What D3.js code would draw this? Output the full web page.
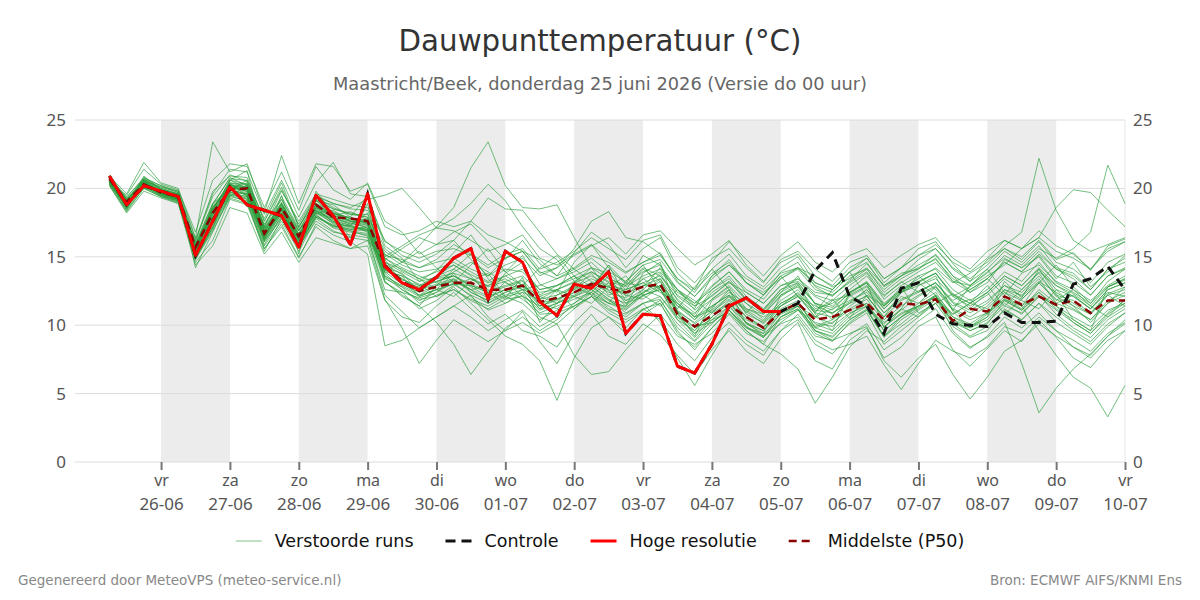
<!DOCTYPE html>
<html>
<head>
<meta charset="utf-8">
<script src="https://cdn.jsdelivr.net/npm/d3@7"></script>
<style>
  body { margin: 0; background: #fff; }
  svg { font-family: "DejaVu Sans", sans-serif; }
</style>
</head>
<body>
<div class="vis"></div>
<script>
// tijdstappen: elke 6 uur vanaf do 25-06 06 UTC
const startTime = Date.UTC(2026, 5, 25, 6);
const stepHours = 6;

const yTicks = [0, 5, 10, 15, 20, 25];
const tickDays = ["vr", "za", "zo", "ma", "di", "wo", "do", "vr", "za", "zo", "ma", "di", "wo", "do", "vr"];
const tickDates = ["26-06", "27-06", "28-06", "29-06", "30-06", "01-07", "02-07", "03-07", "04-07", "05-07", "06-07", "07-07", "08-07", "09-07", "10-07"];
const shadedDays = [26, 28, 30, 32, 34, 36, 38]; // dag van juni (32 = 2 juli)

const hogeResolutie = [20.9,18.8,20.2,19.8,19.4,15.1,17.6,20.1,18.8,18.4,
  18.0,15.7,19.5,18.0,15.9,19.6,14.3,13.1,12.6,13.5,
  14.9,15.6,11.9,15.4,14.6,11.7,10.7,13.0,12.7,13.9,
  9.4,10.8,10.7,7.0,6.5,8.6,11.4,12.0,11.0,11.0];

const controle = [20.9,18.8,20.2,19.8,19.4,15.1,17.6,20.1,18.8,18.4,
  18.0,15.7,19.5,18.0,15.9,19.6,14.3,13.1,12.6,13.5,
  14.9,15.6,11.9,15.4,14.6,11.7,10.7,13.0,12.7,13.9,
  9.4,10.8,10.7,7.0,6.5,8.6,11.4,12.0,11.0,11.0,
  11.6,14.0,15.3,12.1,11.4,9.4,12.7,13.1,10.8,10.1,
  10.0,9.9,10.9,10.2,10.2,10.3,13.0,13.4,14.3,12.6];

const middelste = [20.7,19.0,20.3,19.7,19.4,15.7,18.2,19.9,20.0,16.7,
  18.6,16.5,18.8,17.9,17.8,17.6,14.4,13.2,12.5,12.8,
  13.1,13.1,12.6,12.6,12.9,11.7,12.0,12.4,13.0,12.7,
  12.4,12.8,13.0,10.8,9.9,10.7,11.5,10.6,9.8,11.0,
  11.6,10.4,10.6,11.1,11.6,10.4,11.6,11.5,11.9,10.3,
  11.2,11.0,12.1,11.5,12.1,11.5,11.8,10.9,11.8,11.8];

const verstoordeRuns = [
  [20.8,18.6,20.9,19.9,19.5,14.8,17.2,20.6,21.3,16.2,19.5,15.2,19.8,18.1,16.4,18.9,13.2,12.1,11.4,12.9,14.1,15.2,13.4,12.0,13.5,10.2,11.6,13.1,14.2,12.5,11.4,13.8,14.6,10.9,9.2,11.8,12.6,10.1,9.4,12.2,13.0,10.8,9.6,12.4,13.1,9.8,11.2,12.9,13.6,11.0,9.8,10.6,13.2,12.0,14.1,12.3,10.4,9.6,12.8,13.4],
  [20.2,18.3,20.0,19.4,19.1,16.2,19.4,21.0,20.5,17.8,20.4,17.2,19.1,18.8,17.9,19.5,15.8,14.9,13.2,14.0,15.3,16.6,14.8,13.9,15.1,13.0,12.4,14.6,15.9,14.2,13.0,15.1,14.4,12.1,11.2,13.6,14.8,13.1,12.2,13.9,14.6,12.8,12.1,13.3,14.5,12.9,13.8,14.1,15.2,13.6,12.4,13.1,14.8,14.2,15.0,13.4,14.6,12.8,13.9,15.1],
  [21.0,19.2,20.5,20.1,19.8,14.2,16.8,19.5,19.0,15.4,17.8,15.6,18.0,17.2,16.9,16.5,12.2,11.0,9.8,10.6,11.4,12.2,10.6,9.6,11.0,8.8,7.2,9.4,10.8,9.2,8.6,10.1,9.3,7.8,6.4,8.2,9.6,8.1,7.2,9.0,10.2,7.4,6.8,8.9,9.8,7.6,8.4,9.9,10.6,8.2,7.0,8.3,9.6,8.8,10.4,9.1,7.6,6.9,8.4,9.6],
  [20.4,19.5,21.4,20.3,19.9,16.8,20.6,21.8,21.6,18.6,21.2,18.4,21.6,19.9,19.2,20.4,17.6,16.8,15.2,15.9,16.8,17.4,16.1,14.8,16.2,14.5,13.6,15.3,16.8,15.9,14.2,15.6,16.4,13.8,12.6,14.9,15.6,14.2,13.1,14.8,15.4,14.1,13.2,14.6,15.1,13.4,14.2,15.6,16.1,14.5,13.2,14.8,15.6,15.0,16.2,14.8,15.3,14.0,15.8,16.3],
  [20.6,18.9,20.2,19.6,19.2,15.4,18.5,20.2,19.6,16.6,18.4,16.1,18.6,17.5,17.2,17.0,14.0,13.6,12.1,12.6,13.8,12.4,11.8,13.2,12.1,11.4,12.6,11.2,12.4,13.6,11.8,12.3,13.4,11.0,10.2,11.3,12.4,11.6,10.4,11.8,12.6,11.0,11.9,10.5,12.2,11.4,12.8,10.9,11.6,12.3,11.2,12.4,10.8,11.9,13.1,11.8,12.6,11.4,10.6,11.9],
  [20.9,19.1,20.8,20.0,19.6,15.9,17.9,19.6,19.4,16.1,18.2,16.3,19.2,18.5,18.2,17.9,15.4,14.6,15.8,17.2,18.6,21.5,23.4,20.2,18.6,18.5,18.8,16.4,14.2,13.8,12.6,14.1,13.2,11.4,10.8,12.6,13.4,11.9,10.9,12.4,13.6,11.5,10.4,12.1,12.8,11.2,12.4,13.1,12.2,10.8,11.6,12.9,11.4,12.6,13.8,12.1,11.4,10.2,11.6,12.8],
  [20.3,18.7,20.6,19.7,19.4,15.2,18.8,20.8,20.2,17.4,19.2,17.0,18.4,17.6,17.3,18.2,15.0,15.8,16.6,17.1,17.8,18.9,20.3,19.1,17.2,15.6,14.8,13.2,12.6,14.4,13.1,12.8,14.2,12.6,11.1,12.2,13.1,12.4,11.6,12.9,13.2,12.1,11.4,12.6,13.6,12.1,13.2,12.4,13.1,11.8,12.6,13.4,12.2,13.8,14.4,13.2,12.6,11.8,12.9,13.6],
  [20.7,19.3,20.1,19.5,19.0,14.6,16.2,19.2,18.8,15.6,17.4,15.0,17.2,16.2,15.6,15.8,11.8,10.6,10.2,11.4,12.4,11.2,10.1,10.8,9.6,9.2,8.4,10.2,11.4,10.6,9.8,11.2,10.4,8.6,7.4,9.1,10.2,8.9,8.1,9.6,10.4,8.6,7.9,9.3,10.1,8.2,9.1,10.3,11.2,9.4,8.3,9.2,10.6,9.8,10.9,9.6,8.4,7.8,9.2,10.1],
  [20.5,18.5,20.4,19.8,19.3,15.6,18.4,20.4,20.1,16.9,18.9,16.7,18.2,18.4,17.6,17.3,14.8,13.1,12.8,13.6,14.4,13.6,12.2,13.8,14.6,12.2,12.9,13.6,12.8,14.4,12.1,13.4,12.6,10.4,9.6,11.2,12.6,10.8,10.2,11.6,12.2,10.6,11.2,11.8,12.4,10.9,12.1,11.6,12.8,11.4,11.9,10.8,12.6,12.2,13.4,11.6,12.2,11.2,12.4,12.1],
  [20.6,19.0,20.3,19.7,19.2,15.0,17.4,19.8,19.2,15.9,18.0,15.8,17.6,16.8,16.6,16.4,12.6,12.4,11.2,11.8,12.8,11.6,10.4,9.2,8.6,7.4,4.5,7.6,9.8,10.6,9.4,10.8,11.6,9.6,8.2,9.8,11.1,9.6,8.6,10.6,11.2,9.4,8.8,10.2,11.1,9.1,10.4,11.2,12.1,10.2,9.6,10.1,11.8,11.1,12.2,10.8,9.8,9.1,10.4,11.2],
  [20.8,19.4,20.7,20.2,19.7,16.0,18.9,19.9,20.6,17.2,19.8,17.6,19.6,19.2,18.8,18.6,16.2,15.1,14.6,15.2,16.2,14.8,13.6,14.9,15.4,13.8,14.2,15.6,17.6,18.3,16.4,16.1,15.2,13.4,12.4,14.1,15.2,13.6,12.8,14.2,15.0,13.1,12.6,13.9,14.6,12.8,13.6,14.8,15.6,14.1,13.2,14.1,15.4,14.6,15.8,14.2,13.8,12.6,14.1,14.9],
  [20.3,18.4,20.2,19.4,19.0,15.3,17.6,20.4,19.4,16.5,18.6,16.2,18.2,17.8,17.4,17.8,14.2,13.8,12.4,13.4,13.6,12.9,12.4,12.8,13.2,11.4,11.8,12.6,13.8,12.2,12.6,13.1,12.4,11.6,10.6,11.4,12.2,11.2,10.6,11.4,12.1,11.4,10.9,11.6,12.6,11.2,12.4,12.9,13.4,12.1,12.8,13.6,14.4,15.6,16.4,18.6,19.9,19.7,18.4,17.2],
  [20.6,18.8,20.5,19.9,19.6,15.8,18.1,19.4,20.3,17.1,18.7,16.9,19.1,18.1,17.9,17.4,13.8,12.6,11.8,12.4,13.4,12.6,11.6,12.4,12.9,11.6,11.2,12.1,12.6,11.8,11.2,12.4,13.2,10.8,9.4,10.6,11.8,10.1,9.6,11.2,11.8,9.8,10.2,11.1,11.6,9.9,10.8,11.4,12.2,9.6,8.4,9.1,10.2,7.2,3.6,5.4,6.8,7.9,9.2,10.4],
  [20.4,19.1,20.6,19.6,19.3,15.7,18.6,20.1,19.8,16.8,18.2,16.6,18.9,18.0,18.3,17.7,14.6,14.1,13.4,12.6,12.1,13.2,13.8,12.1,12.4,11.9,12.6,12.1,11.6,12.8,13.6,12.2,11.4,12.6,11.8,10.9,11.6,10.2,9.6,10.8,11.4,10.6,11.8,12.2,11.4,10.1,11.2,10.6,11.9,10.8,11.6,11.2,12.4,11.8,11.2,12.6,11.4,10.8,12.2,11.4],
  [20.7,19.0,20.0,19.8,19.4,14.9,17.0,20.3,19.9,16.3,18.5,15.9,18.3,17.4,17.0,16.9,13.4,12.8,11.6,12.2,12.6,11.8,11.2,11.9,12.1,10.6,10.1,7.8,6.4,6.6,8.2,9.6,10.8,9.2,8.6,9.4,10.8,9.4,8.8,10.2,11.1,9.6,9.2,10.4,11.2,9.2,10.6,11.3,12.1,10.2,9.8,10.4,11.6,10.8,12.1,11.4,10.2,9.4,10.8,11.6],
  [20.5,18.6,20.3,19.5,19.1,15.5,18.2,20.6,20.0,17.0,19.0,16.4,18.6,17.9,17.6,17.1,14.9,14.2,13.6,13.1,13.9,14.6,13.9,13.1,12.6,12.9,13.4,13.9,14.6,13.4,12.9,14.2,13.6,12.2,11.4,12.8,13.9,12.4,11.6,12.9,13.4,12.2,11.8,12.9,13.8,11.9,12.9,13.6,14.1,12.6,11.8,12.6,13.9,13.2,14.6,13.1,12.4,11.6,12.8,13.4],
  [20.9,19.6,21.9,20.4,20.0,16.4,23.4,21.2,21.8,18.2,22.4,18.9,21.8,21.6,19.8,20.3,17.2,16.6,16.9,17.6,17.2,17.6,16.6,16.1,15.4,14.8,13.6,14.2,15.1,14.6,13.8,14.6,15.3,13.2,12.1,13.6,14.4,13.4,12.6,13.8,14.2,13.6,12.8,13.4,14.2,12.9,13.6,14.2,14.8,13.4,12.6,13.4,14.6,13.9,15.2,14.1,13.4,12.2,13.6,14.2],
  [20.2,18.2,19.8,19.3,18.9,14.4,15.8,18.6,18.2,15.2,16.8,14.6,16.4,16.0,15.6,16.2,14.8,15.6,16.4,15.9,16.2,17.6,19.3,18.5,18.4,16.8,15.2,14.1,13.2,12.6,11.8,12.6,13.8,11.8,10.6,12.4,13.2,11.8,11.1,12.6,13.1,11.6,10.8,12.2,12.9,11.4,12.6,13.2,13.8,12.2,11.6,12.4,13.6,12.9,14.1,12.6,12.1,11.2,12.6,13.1],
  [20.6,18.9,20.4,19.7,19.3,15.2,17.8,19.7,19.6,16.4,18.3,16.0,18.0,17.3,17.0,17.2,13.6,12.9,12.2,12.9,13.2,12.6,12.9,13.4,12.6,12.1,11.6,12.4,13.1,12.8,12.2,11.9,12.8,11.4,10.4,11.9,12.8,11.2,10.8,12.2,12.8,11.2,11.6,12.4,13.2,11.6,12.6,13.4,14.2,13.1,13.8,14.6,15.8,16.8,22.2,18.4,16.2,15.4,15.9,16.4],
  [20.4,18.7,20.7,19.9,19.5,15.8,18.7,20.0,20.4,17.3,19.4,17.1,19.4,18.6,18.1,18.1,15.2,14.4,13.9,14.1,14.6,13.9,13.2,14.1,13.9,12.6,12.9,13.4,13.9,13.2,12.8,13.6,14.1,12.4,11.6,12.6,13.6,12.1,11.2,12.6,13.4,12.4,12.2,13.1,13.9,12.2,13.1,13.9,14.6,13.2,12.9,13.8,15.1,14.4,15.6,14.9,15.6,16.8,21.7,18.9],
  [20.7,19.2,20.2,19.6,19.2,15.1,17.6,19.9,19.5,16.5,18.6,16.3,18.4,17.8,17.5,17.1,14.1,13.3,12.9,13.2,13.6,12.8,12.1,12.6,11.9,10.9,11.4,11.9,12.4,11.6,11.4,12.6,12.1,10.4,9.1,10.6,11.6,10.4,9.8,11.1,11.6,9.9,10.4,11.2,11.9,10.2,11.1,12.1,12.8,11.1,10.4,10.9,12.1,11.4,9.6,7.8,6.2,5.4,3.3,5.6],
  [20.5,18.5,20.6,19.8,19.4,15.6,18.3,20.3,19.7,16.7,18.8,16.6,18.7,18.0,17.7,17.5,14.2,13.4,12.6,13.0,13.4,12.4,11.8,12.4,12.8,11.4,11.9,12.6,13.1,12.4,12.0,12.9,12.8,11.0,9.8,10.4,10.9,9.6,8.6,7.9,6.8,4.3,6.2,8.4,9.6,8.8,9.9,10.8,11.6,10.4,9.9,10.8,11.9,11.2,12.6,11.6,11.1,10.4,11.6,12.2],
  [20.8,19.0,20.5,19.8,19.5,15.6,17.8,20.2,20.1,16.9,18.5,16.4,18.7,18.2,17.6,17.4,14.4,13.1,12.2,12.6,13.0,12.9,12.4,11.6,12.2,11.1,11.6,12.2,12.9,11.9,10.9,11.6,10.2,7.6,5.6,7.8,9.8,8.6,7.8,9.6,10.8,9.2,8.9,10.1,10.9,8.6,9.6,10.6,11.6,9.9,9.1,9.6,11.2,10.4,11.6,10.2,9.4,8.6,9.9,10.9],
  [20.3,18.8,20.4,19.5,19.2,16.1,19.8,20.9,20.8,17.6,19.9,17.4,19.5,18.9,18.5,18.4,15.6,14.6,14.2,14.8,15.9,15.2,14.4,15.2,15.6,14.1,14.6,15.4,16.4,15.6,14.8,16.2,16.6,14.2,13.1,14.6,16.1,14.8,13.6,15.1,16.1,14.6,13.9,15.1,15.6,14.2,15.1,15.9,16.4,14.9,14.1,15.4,16.2,15.6,16.4,15.4,14.9,14.1,15.6,16.1],
  [20.6,19.2,20.1,19.8,19.4,15.3,17.4,19.5,19.3,16.2,17.9,16.0,17.9,17.2,17.3,16.8,13.9,13.6,13.0,12.1,12.9,13.4,12.6,11.9,12.6,11.2,12.2,12.9,12.2,13.1,11.6,12.1,12.9,11.6,10.6,11.1,12.1,11.0,10.1,11.4,12.4,10.9,10.6,11.6,12.1,10.6,11.8,12.4,13.1,11.6,10.9,11.6,12.9,12.1,13.2,12.4,11.6,10.8,12.2,12.6],
  [20.4,18.9,20.3,19.6,19.1,14.8,16.9,19.3,18.9,15.8,17.6,15.4,17.8,16.9,16.4,16.2,11.9,9.8,7.2,8.9,10.4,9.6,8.8,9.6,10.2,9.4,10.1,11.2,12.1,11.4,10.6,11.6,11.9,9.8,8.8,10.1,11.4,10.2,9.2,10.9,11.6,10.1,9.6,10.8,11.6,9.6,10.6,11.6,12.4,10.6,9.9,10.6,11.8,11.1,12.4,11.2,10.4,9.6,10.9,11.8],
  [20.5,18.6,20.2,19.7,19.2,15.4,18.4,20.6,20.3,17.1,18.9,16.9,18.6,18.2,17.8,17.6,15.1,14.8,14.2,14.6,14.9,14.1,13.6,14.4,14.9,13.6,14.2,15.1,15.8,16.4,15.2,16.6,16.9,15.6,14.4,15.2,16.2,14.4,13.2,14.6,15.2,13.6,12.9,14.2,14.9,13.1,14.2,15.1,15.6,14.2,13.4,14.4,15.6,14.8,16.1,14.6,14.1,13.1,14.6,15.2],
  [20.6,18.7,20.4,19.8,19.3,15.1,17.1,19.4,19.1,15.6,17.2,14.9,17.4,16.6,16.1,15.2,8.5,8.9,9.8,10.6,11.4,10.6,9.6,10.4,11.1,9.9,10.6,11.4,12.1,11.1,10.4,11.2,11.6,9.4,8.4,9.8,11.1,9.8,9.1,10.6,11.2,9.8,9.4,10.6,11.4,9.6,10.6,11.4,12.2,10.4,9.6,10.2,11.4,10.9,12.1,11.1,10.2,9.4,10.6,11.4],
  [20.8,19.2,20.6,20.1,19.7,15.9,18.9,20.7,20.6,17.6,20.1,17.2,19.4,18.9,18.6,19.2,19.5,20.0,18.6,17.1,16.9,16.2,15.4,15.9,16.6,14.9,14.4,15.2,15.9,14.8,13.9,14.6,15.1,13.4,12.6,13.8,14.6,13.1,12.2,13.6,14.2,12.9,12.4,13.6,14.1,12.6,13.6,14.4,15.1,13.6,12.9,13.9,14.9,14.2,15.4,14.1,13.6,12.6,14.1,14.6],
  [20.5,18.8,20.5,19.6,19.2,15.5,18.1,20.1,19.8,16.4,18.4,16.2,18.3,17.6,17.1,17.0,13.2,12.2,11.4,10.2,8.6,6.4,8.1,9.8,10.6,9.6,10.4,11.6,12.6,11.6,11.1,12.2,12.6,10.9,9.6,10.9,12.1,10.6,9.8,11.4,12.1,10.6,10.1,11.4,12.2,10.4,11.4,12.2,12.9,11.2,10.6,11.4,12.6,11.9,13.1,11.9,11.2,10.4,11.8,12.4],
  [20.9,19.1,20.2,19.9,19.6,15.7,18.4,19.8,20.2,16.8,18.9,16.5,18.9,18.3,17.8,17.5,14.5,13.7,12.9,13.6,14.1,13.4,12.9,13.6,12.9,12.1,12.6,13.2,13.9,13.1,12.4,13.4,13.9,12.6,11.4,12.1,13.2,11.9,11.1,12.4,13.1,11.6,11.1,12.4,13.1,11.4,12.4,13.1,13.8,12.1,11.4,12.2,13.4,12.6,13.9,12.9,12.1,11.2,12.6,13.1],
  [20.3,18.4,20.0,19.4,18.9,14.9,17.2,19.6,19.2,16.1,17.8,15.7,18.1,17.1,16.8,16.6,13.1,12.4,12.0,12.4,13.1,12.1,11.1,11.6,12.4,10.8,10.9,11.4,12.1,10.9,10.2,11.1,11.8,10.1,8.9,10.4,11.4,9.9,9.1,10.6,11.4,9.6,9.1,10.4,11.1,9.2,10.1,11.1,11.9,10.1,9.2,9.9,11.1,10.4,11.6,10.6,9.6,8.8,10.1,10.9],
  [20.6,19.3,20.8,20.2,19.8,16.3,19.6,21.4,21.2,18.1,20.6,17.9,20.4,21.9,19.6,19.4,16.1,15.4,14.9,15.4,15.6,15.1,14.2,14.9,15.4,13.9,13.4,14.1,14.9,13.9,13.2,14.4,14.8,13.1,12.1,13.4,14.4,13.1,12.4,13.4,14.1,12.6,12.2,13.2,14.1,12.4,13.4,14.1,14.9,13.2,12.4,13.4,14.6,13.9,15.1,13.6,13.1,12.2,13.6,14.1],
  [20.4,18.9,20.1,19.5,19.1,15.2,17.5,19.7,19.4,16.3,18.1,15.8,17.9,17.3,16.9,16.7,13.5,12.6,11.9,12.1,12.6,11.9,11.4,12.1,11.6,10.4,11.1,11.6,12.4,11.2,10.8,11.6,12.1,10.6,9.9,10.2,11.1,9.8,9.4,10.4,11.1,10.2,9.9,10.9,11.4,9.9,10.9,11.4,12.1,10.6,10.1,10.9,11.9,11.4,12.4,11.4,10.6,9.9,11.1,11.6],
  [20.7,19.0,20.7,19.9,19.5,15.4,18.0,20.2,19.9,16.6,18.6,16.4,18.5,17.9,17.4,17.3,14.0,14.6,15.4,14.2,13.1,14.4,15.6,13.9,12.9,14.2,15.1,13.6,12.2,11.6,13.2,14.4,12.6,11.2,12.8,14.1,12.6,10.9,12.2,13.6,12.1,10.9,12.6,13.9,12.1,10.6,12.4,13.6,12.6,11.1,12.9,14.1,12.4,11.4,13.1,14.4,12.8,11.6,13.2,14.1],
  [20.5,18.7,20.4,19.7,19.3,15.6,18.2,20.1,19.9,16.9,18.6,16.6,18.6,18.0,17.6,17.5,14.3,13.4,12.7,13.2,13.6,13.0,12.5,12.9,13.3,11.9,12.2,12.7,13.4,12.8,12.3,12.9,13.4,11.6,10.4,11.4,12.2,11.1,10.3,11.6,12.3,11.1,10.9,11.7,12.6,10.9,11.9,12.5,13.1,11.7,11.1,11.8,12.9,12.4,13.6,12.2,11.8,10.9,12.3,12.8],
  [20.6,18.9,20.3,19.8,19.4,15.3,17.9,19.9,19.6,16.6,18.4,16.2,18.4,17.7,17.3,17.0,13.9,13.0,12.4,12.9,13.3,12.6,12.0,12.6,13.0,11.6,11.9,12.4,13.0,12.1,11.6,12.4,12.9,11.1,10.1,11.0,11.9,10.6,9.9,10.9,11.4,9.6,8.9,9.4,9.9,7.4,6.2,7.6,8.6,6.4,4.6,6.2,8.1,8.9,10.1,9.2,8.4,7.6,8.9,9.6],
  [20.4,18.6,20.5,19.6,19.2,15.0,17.7,20.0,19.5,16.4,18.2,16.0,18.2,17.5,17.2,16.9,13.6,12.8,12.1,12.6,13.0,12.2,11.6,12.2,12.6,11.2,11.6,12.1,12.8,11.9,11.3,12.2,12.6,10.6,9.4,10.2,11.1,9.9,9.2,10.1,10.6,8.9,8.2,8.6,9.2,7.1,5.3,7.2,8.9,8.1,7.6,8.4,9.9,9.4,10.6,9.6,8.9,8.1,9.4,10.2],
  [20.7,19.1,20.6,20.0,19.6,15.9,18.6,20.4,20.3,17.2,19.2,16.9,19.1,18.5,18.1,17.9,14.9,14.0,13.4,13.9,14.4,13.7,13.1,13.6,14.1,12.6,12.9,13.6,14.2,13.4,12.9,13.9,14.4,12.6,11.6,12.9,13.9,12.6,11.9,13.4,14.2,13.1,12.6,13.9,14.9,13.4,14.2,15.1,15.9,14.6,13.9,14.9,16.2,15.6,16.9,15.8,15.2,14.1,15.4,16.1],
  [20.5,18.8,20.2,19.7,19.3,15.8,18.5,20.3,20.0,17.0,18.8,16.7,18.8,18.2,17.8,17.7,14.6,13.9,13.2,13.5,13.8,13.4,12.8,13.2,13.6,12.4,12.6,13.1,13.6,12.9,12.6,13.1,13.6,11.9,10.9,11.9,12.9,11.6,10.8,12.1,12.9,11.6,11.3,12.3,13.1,11.5,12.5,13.2,13.8,12.3,11.6,12.4,13.6,12.9,14.2,12.9,12.3,11.4,12.8,13.3]
];

const legendItems = ["Verstoorde runs", "Controle", "Hoge resolutie", "Middelste (P50)"];

const width = 1200, height = 600;
const plot = { left: 75, right: 1125, top: 120, bottom: 462 };

const svg = d3.select(".vis").append("svg")
  .attr("width", width)
  .attr("height", height);

const timeAt = i => new Date(startTime + i * stepHours * 3600 * 1000);
const dayAt = d => new Date(Date.UTC(2026, 5, d));

const x = d3.scaleUtc()
  .domain([new Date(Date.UTC(2026, 5, 24, 18)), new Date(Date.UTC(2026, 6, 10, 0))])
  .range([plot.left, plot.right]);

const y = d3.scaleLinear()
  .domain([0, 25])
  .range([plot.bottom, plot.top]);

// grijze banden
svg.append("g")
  .selectAll("rect")
  .data(shadedDays)
  .join("rect")
  .attr("x", d => x(dayAt(d)))
  .attr("width", d => x(dayAt(d + 1)) - x(dayAt(d)))
  .attr("y", plot.top)
  .attr("height", plot.bottom - plot.top)
  .attr("fill", "#ececec");

// rasterlijnen
svg.append("g")
  .selectAll("line")
  .data(yTicks)
  .join("line")
  .attr("x1", plot.left)
  .attr("x2", plot.right)
  .attr("y1", d => y(d))
  .attr("y2", d => y(d))
  .attr("stroke", "#dcdcdc")
  .attr("stroke-width", 1);

svg.append("line")
  .attr("x1", plot.right).attr("x2", plot.right)
  .attr("y1", plot.top).attr("y2", plot.bottom)
  .attr("stroke", "#e6e6e6");

// y-assen links en rechts
const yLeft = svg.append("g")
  .attr("transform", "translate(" + plot.left + ",0)")
  .call(d3.axisLeft(y).tickValues(yTicks).tickSize(0).tickPadding(9));
const yRight = svg.append("g")
  .attr("transform", "translate(" + plot.right + ",0)")
  .call(d3.axisRight(y).tickValues(yTicks).tickSize(0).tickPadding(8));
[yLeft, yRight].forEach(g => {
  g.select(".domain").remove();
  g.selectAll("text")
    .style("font-family", "'Noto Sans', sans-serif")
    .style("font-size", "17px")
    .attr("fill", "#555");
});

// x-as: dagnaam en datum als aparte teksten
const dayTicks = tickDates.map((d, i) => dayAt(26 + i));
const gx = svg.append("g")
  .attr("transform", "translate(0," + plot.bottom + ")")
  .call(d3.axisBottom(x).tickValues(dayTicks).tickSize(8).tickFormat(""));
gx.select(".domain").remove();
gx.selectAll(".tick line").attr("stroke", "#777").attr("stroke-width", 2);
gx.selectAll(".tick text").remove();
gx.selectAll(".tick").each(function (d, i) {
  const tick = d3.select(this);
  tick.append("text")
    .attr("text-anchor", "middle")
    .attr("y", 24)
    .attr("fill", "#555")
    .style("font-family", "'Noto Sans', sans-serif")
    .style("font-size", "16px")
    .text(tickDays[i]);
  tick.append("text")
    .attr("text-anchor", "middle")
    .attr("y", 47.5)
    .attr("fill", "#555")
    .style("font-family", "'Noto Sans', sans-serif")
    .style("font-size", "17px")
    .text(tickDates[i]);
});

// lijnen
const line = d3.line()
  .x((d, i) => x(timeAt(i)))
  .y(d => y(d));

svg.append("g")
  .selectAll("path")
  .data(verstoordeRuns)
  .join("path")
  .attr("d", line)
  .attr("fill", "none")
  .attr("stroke", "#2a9d3a")
  .attr("stroke-opacity", 0.65)
  .attr("stroke-width", 1);

svg.append("path")
  .attr("d", line(middelste))
  .attr("fill", "none")
  .attr("stroke", "#8b0000")
  .attr("stroke-width", 2.5)
  .attr("stroke-dasharray", "8,5");

svg.append("path")
  .attr("d", line(controle))
  .attr("fill", "none")
  .attr("stroke", "#111")
  .attr("stroke-width", 3)
  .attr("stroke-dasharray", "9,6");

svg.append("path")
  .attr("d", line(hogeResolutie))
  .attr("fill", "none")
  .attr("stroke", "#ff0000")
  .attr("stroke-width", 3)
  .attr("stroke-linejoin", "round");

// titels
svg.append("text")
  .attr("x", width / 2).attr("y", 51)
  .attr("text-anchor", "middle")
  .attr("fill", "#333")
  .style("font-size", "29.3px")
  .text("Dauwpunttemperatuur (°C)");

svg.append("text")
  .attr("x", width / 2).attr("y", 90)
  .attr("text-anchor", "middle")
  .attr("fill", "#666")
  .style("font-size", "17.8px")
  .text("Maastricht/Beek, donderdag 25 juni 2026 (Versie do 00 uur)");

// legenda
const legendStyles = [
  { stroke: "#2a9d3a", opacity: 0.6, width: 1, dash: null },
  { stroke: "#111", opacity: 1, width: 3, dash: "10,6" },
  { stroke: "#ff0000", opacity: 1, width: 3, dash: null },
  { stroke: "#8b0000", opacity: 1, width: 2.5, dash: "8,5" }
];
const legend = svg.append("g");
let lx = 0;
legendItems.forEach((name, i) => {
  const item = legend.append("g").attr("transform", "translate(" + lx + ",0)");
  const st = legendStyles[i];
  item.append("line")
    .attr("x1", 0).attr("x2", 26).attr("y1", 0).attr("y2", 0)
    .attr("stroke", st.stroke)
    .attr("stroke-opacity", st.opacity)
    .attr("stroke-width", st.width)
    .attr("stroke-dasharray", st.dash);
  const txt = item.append("text")
    .attr("x", 39).attr("y", 6)
    .attr("fill", "#111")
    .style("font-size", "17.5px")
    .text(name);
  lx += 39 + txt.node().getComputedTextLength() + 32;
});
const legendWidth = lx - 32;
legend.attr("transform", "translate(" + (width / 2 - legendWidth / 2) + ",541)");

// voettekst
svg.append("text")
  .attr("x", 18).attr("y", 585)
  .attr("fill", "#888")
  .style("font-size", "13.5px")
  .text("Gegenereerd door MeteoVPS (meteo-service.nl)");

svg.append("text")
  .attr("x", 1182).attr("y", 585)
  .attr("text-anchor", "end")
  .attr("fill", "#888")
  .style("font-size", "13.5px")
  .text("Bron: ECMWF AIFS/KNMI Ens");
</script>
</body>
</html>
